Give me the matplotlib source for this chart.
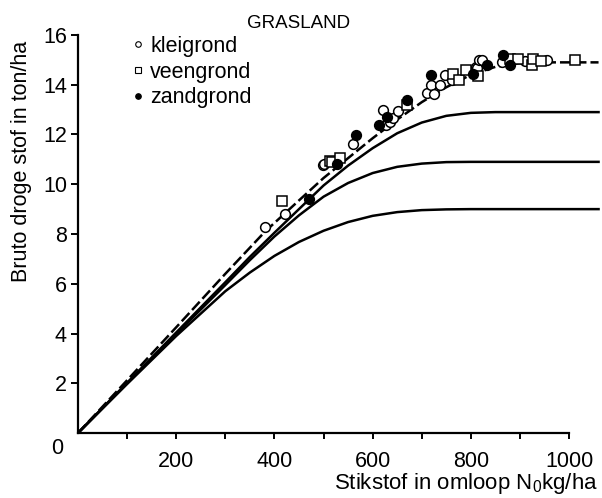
import matplotlib
matplotlib.use("Agg")
import matplotlib.pyplot as plt
from matplotlib.lines import Line2D

plt.rcParams['font.family'] = ['Liberation Sans', 'DejaVu Sans']
plt.rcParams['mathtext.fontset'] = 'custom'
plt.rcParams['mathtext.rm'] = 'Liberation Sans'

# response curves (N kg/ha, ton/ha)
n_top = [0, 100, 200, 300, 381, 450, 500, 550, 600, 650, 700, 750, 800, 850, 900, 950, 1060]
y_top = [0, 2.12, 4.25, 6.4, 8.1, 9.35, 10.25, 11.05, 11.85, 12.6, 13.3, 13.9, 14.4, 14.72, 14.87, 14.9, 14.9]

n_129 = [0, 100, 200, 300, 350, 400, 471, 500, 550, 600, 650, 700, 750, 800, 850, 1060]
y_129 = [0, 2.02, 4.04, 6.06, 7.08, 8.05, 9.4, 9.95, 10.75, 11.45, 12.05, 12.48, 12.75, 12.87, 12.9, 12.9]

n_109 = [0, 100, 200, 300, 350, 400, 450, 500, 550, 600, 650, 700, 750, 800, 1060]
y_109 = [0, 2.0, 3.98, 5.95, 6.95, 7.9, 8.75, 9.5, 10.05, 10.45, 10.7, 10.83, 10.89, 10.9, 10.9]

n_90 = [0, 100, 200, 300, 350, 400, 450, 500, 550, 600, 650, 700, 750, 800, 1060]
y_90 = [0, 1.97, 3.9, 5.7, 6.45, 7.12, 7.68, 8.13, 8.48, 8.73, 8.88, 8.96, 8.99, 9.0, 9.0]

# measurements per soil type
klei_n = [381, 422, 498, 500, 561, 622, 627, 635, 641, 652, 710, 718, 725, 737, 747, 761, 811, 812, 817, 822, 863, 910, 956]
klei_y = [8.29, 8.82, 10.76, 10.83, 11.63, 12.97, 12.37, 12.5, 12.68, 12.94, 13.67, 13.98, 13.64, 14.0, 14.38, 14.2, 14.71, 14.68, 15.0, 14.98, 14.91, 14.95, 14.98]

veen_n = [416, 513, 517, 534, 669, 763, 776, 790, 815, 880, 897, 924, 927, 942, 1012]
veen_y = [9.33, 10.92, 10.9, 11.07, 13.17, 14.45, 14.18, 14.6, 14.34, 15.05, 15.05, 14.78, 15.05, 14.95, 14.98]

zand_n = [471, 528, 567, 612, 629, 669, 718, 805, 832, 866, 880]
zand_y = [9.40, 10.83, 11.97, 12.4, 12.72, 13.4, 14.4, 14.45, 14.78, 15.18, 14.78]

fig = plt.figure(figsize=(6.02, 4.98), dpi=100)
ax = fig.add_axes([78 / 602, 65 / 498, 523 / 602, 398 / 498])

lw = 1.8
ax.plot(n_90, y_90, color='black', lw=lw)
ax.plot(n_109, y_109, color='black', lw=lw)
ax.plot(n_129, y_129, color='black', lw=lw)
ax.plot(n_top, y_top, color='black', lw=lw, dashes=[4.5, 1.6])

ms = 7
ax.plot(klei_n, klei_y, 'o', ms=ms, mfc='white', mec='black', mew=1.1, zorder=3)
ax.plot(veen_n, veen_y, 's', ms=ms - 0.5, mfc='white', mec='black', mew=1.1, zorder=3)
ax.plot(zand_n, zand_y, 'o', ms=ms, mfc='black', mec='black', mew=1.1, zorder=4)

ax.set_xlim(0, 1065)
ax.set_ylim(0, 16)
ax.spines['top'].set_visible(False)
ax.spines['right'].set_visible(False)
ax.spines['left'].set_bounds(0, 16)
ax.spines['bottom'].set_bounds(0, 1000)
for s in ['left', 'bottom']:
    ax.spines[s].set_linewidth(1.6)

ax.set_xticks(range(100, 1001, 100))
ax.set_xticklabels(['', '200', '', '400', '', '600', '', '800', '', '1000'])
ax.set_yticks(range(2, 17, 2))
ax.set_yticklabels([str(v) for v in range(2, 17, 2)])
ax.tick_params(axis='x', direction='out', length=4, width=1.4, pad=9, labelsize=15.5)
ax.tick_params(axis='y', direction='out', length=5, width=1.4, pad=3, labelsize=15.5)
ax.text(-0.028, -0.04, '0', transform=ax.transAxes, ha='right', va='center', fontsize=15.5)

fig.text(598 / 602, 1 - 483 / 498, 'Stikstof in omloop N$_0$kg/ha', ha='right', va='center', fontsize=16)
fig.text(22 / 602, 1 - 161 / 498, 'Bruto droge stof in ton/ha', rotation=90, ha='center', va='center', fontsize=15.5)
fig.text(247 / 602, 1 - 23 / 498, 'GRASLAND', ha='left', va='center', fontsize=13.5)

handles = [
    Line2D([], [], marker='o', ls='none', ms=4, mfc='white', mec='black', mew=0.8),
    Line2D([], [], marker='s', ls='none', ms=4, mfc='white', mec='black', mew=0.8),
    Line2D([], [], marker='o', ls='none', ms=4, mfc='black', mec='black', mew=0.8),
]
ax.legend(handles, ['kleigrond', 'veengrond', 'zandgrond'], loc='upper left',
          bbox_to_anchor=(132 / 602, 1 - 36 / 498), bbox_transform=fig.transFigure,
          frameon=False, fontsize=15.5, handlelength=0.6, handletextpad=0.25,
          labelspacing=0.22, borderpad=0, borderaxespad=0)

fig.savefig('out.png', dpi=100)
